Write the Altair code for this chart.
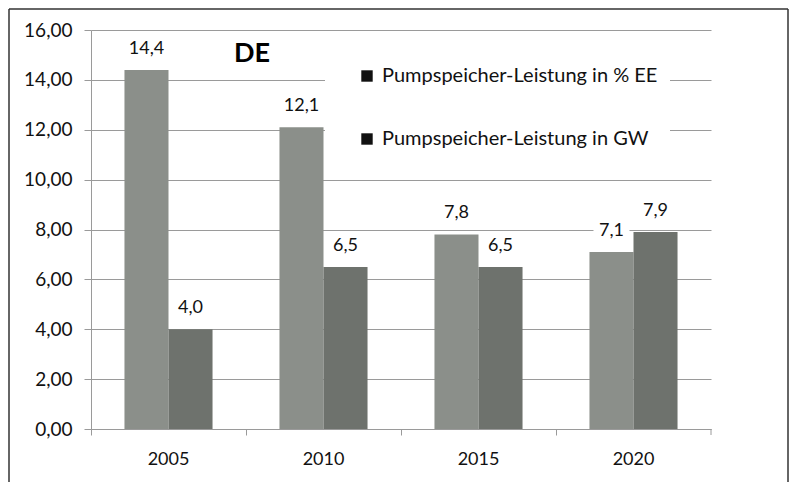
import altair as alt
import pandas as pd

years = ["2005", "2010", "2015", "2020"]
series = ["Pumpspeicher-Leistung in % EE", "Pumpspeicher-Leistung in GW"]
pct_ee = [14.4, 12.1, 7.8, 7.1]
gw = [4.0, 6.5, 6.5, 7.9]
y_ticks = [0, 2, 4, 6, 8, 10, 12, 14, 16]
bar_colors = ["#8b8f8a", "#6e726d"]
title_text = ["DE"]

rows = []
for i, yr in enumerate(years):
    rows.append({"year": yr, "series": series[0], "value": pct_ee[i]})
    rows.append({"year": yr, "series": series[1], "value": gw[i]})
df = pd.DataFrame(rows)

W, H = 620, 399
FONT = "Lato"
GRID = "#9a9a9a"
TXT = "#111111"

x_enc = alt.X(
    "year:N", sort=years,
    scale=alt.Scale(paddingInner=0, paddingOuter=0),
    axis=alt.Axis(title=None, bandPosition=0, labelAngle=0,
                  tickSize=6, tickColor=GRID, domainColor=GRID, labelPadding=15,
                  labelFont=FONT, labelFontSize=18, labelColor=TXT, grid=False),
)
xo_enc = alt.XOffset("series:N", sort=series,
                     scale=alt.Scale(paddingInner=0, paddingOuter=0.76))
y_enc = alt.Y(
    "value:Q",
    scale=alt.Scale(domain=[0, 16], nice=False),
    axis=alt.Axis(title=None, values=y_ticks, grid=True, gridColor=GRID,
                  tickSize=7, tickColor=GRID, domainColor=GRID, labelPadding=12,
                  labelExpr="replace(format(datum.value, '.2f'), '.', ',')",
                  labelFont=FONT, labelFontSize=19, labelColor=TXT),
)

base = alt.Chart(df).encode(x=x_enc, xOffset=xo_enc, y=y_enc)

bars = base.mark_bar().encode(
    color=alt.Color("series:N", sort=series,
                    scale=alt.Scale(domain=series, range=bar_colors), legend=None)
)

label_bg = base.mark_point(
    shape="M-1,-0.6L1,-0.6L1,0.6L-1,0.6Z", filled=True, color="white",
    opacity=1, size=1296, yOffset=-21
)

labels = base.transform_calculate(
    lbl="replace(format(datum.value, '.1f'), '.', ',')"
).mark_text(dy=-21, fontSize=18, font=FONT, color=TXT).encode(text="lbl:N")

legend_layer = base.transform_calculate(
    legend_series="datum.series"
).mark_point(size=0, filled=True, color="#111111").encode(
    shape=alt.Shape(
        "legend_series:N", sort=series,
        scale=alt.Scale(domain=series, range=["square", "square"]),
        legend=alt.Legend(
            title=None, orient="none", legendX=234, legendY=24, padding=12,
            fillColor="white", symbolSize=130, symbolOffset=20, labelOffset=5,
            rowPadding=43, labelFont=FONT, labelFontSize=20, labelColor=TXT,
            labelLimit=500, symbolStrokeWidth=0, symbolFillColor="#111111",
            symbolOpacity=1, direction="vertical",
            labelExpr="datum.label + '    '",
        ),
    )
)

one = pd.DataFrame({"t": title_text})
de_text = alt.Chart(one).mark_text(
    font=FONT, fontSize=27, fontWeight="bold", color="#000000"
).encode(x=alt.value(161), y=alt.value(24), text="t:N")

end_tick = alt.Chart(one).mark_rule(color=GRID).encode(
    x=alt.value(W), y=alt.value(H), y2=alt.value(H + 6)
)

frame_left = alt.Chart(one).mark_rule(color="#333333", strokeWidth=1.5).encode(
    x=alt.value(-82), y=alt.value(-21), y2=alt.value(H + 53)
)
frame_top = alt.Chart(one).mark_rule(color="#333333", strokeWidth=1.5).encode(
    x=alt.value(-82), x2=alt.value(W + 77), y=alt.value(-21)
)
frame_right = alt.Chart(one).mark_rule(color="#333333", strokeWidth=1.5).encode(
    x=alt.value(W + 77), y=alt.value(-21), y2=alt.value(H + 53)
)

chart = alt.layer(
    bars, label_bg, labels, legend_layer, de_text, end_tick,
    frame_left, frame_top, frame_right
).properties(
    width=W, height=H,
    autosize=alt.AutoSizeParams(type="none"),
    padding={"left": 83, "top": 22, "right": 78, "bottom": 53},
    background="white",
).resolve_legend(shape="independent").configure_view(stroke=None)

chart.save("out.html", embed_options={"renderer": "svg", "actions": False})
